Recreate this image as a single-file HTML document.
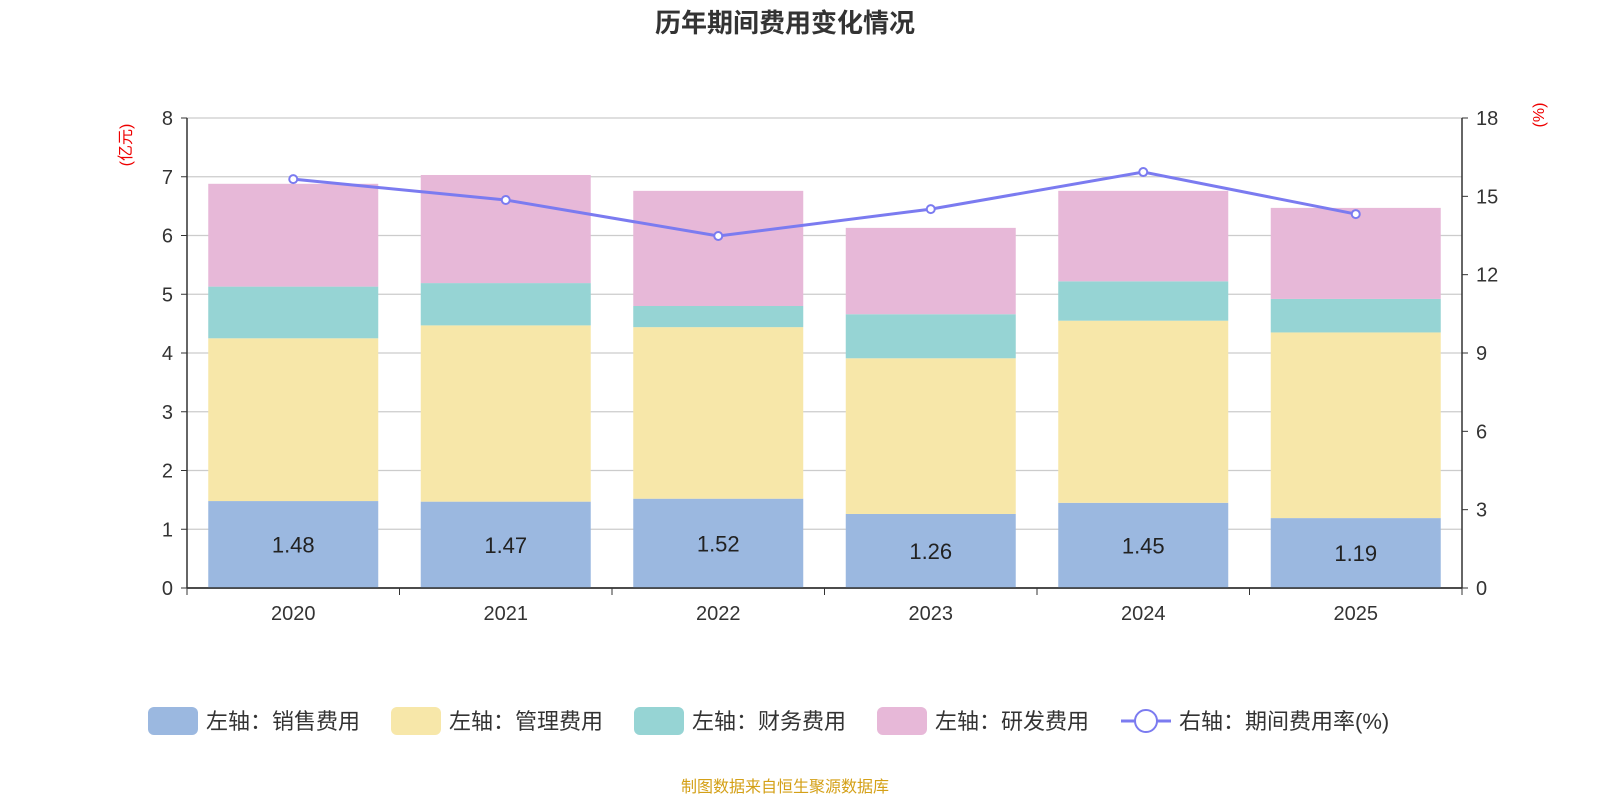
<!DOCTYPE html>
<html><head><meta charset="utf-8">
<style>
body{margin:0;background:#fff;font-family:"Liberation Sans","Noto Sans CJK SC",sans-serif;}
svg text{font-family:"Liberation Sans","Noto Sans CJK SC",sans-serif;}
</style></head>
<body>
<svg id="c" width="1600" height="800" xmlns="http://www.w3.org/2000/svg">
<text x="785" y="32" text-anchor="middle" font-size="26" font-weight="bold" fill="#333">历年期间费用变化情况</text>
<text x="0" y="0" transform="translate(131,145) rotate(-90)" text-anchor="middle" font-size="16" fill="#e00">(亿元)</text>
<text x="0" y="0" transform="translate(1544,115) rotate(-90)" text-anchor="middle" font-size="16" fill="#e00">(%)</text>
<g id="grid"></g><g id="bars"></g><g id="axes"></g><g id="line"></g>
<g id="legend"></g>
<text x="785" y="792" text-anchor="middle" font-size="16" fill="#d4a017">制图数据来自恒生聚源数据库</text>
</svg>
<script>
const categories=["2020","2021","2022","2023","2024","2025"];
const sales=[1.48,1.47,1.52,1.26,1.45,1.19];
const mgmt=[2.77,3.00,2.92,2.65,3.10,3.16];
const fin=[0.88,0.72,0.36,0.75,0.67,0.57];
const rd=[1.75,1.84,1.96,1.47,1.54,1.55];
const rate=[15.66,14.86,13.48,14.51,15.93,14.32];
const leftTicks=[0,1,2,3,4,5,6,7,8];
const rightTicks=[0,3,6,9,12,15,18];
const NS="http://www.w3.org/2000/svg";
const X0=187,X1=1462,Y0=588,Y1=118;
const step=(X1-X0)/categories.length;
const yL=v=>Y0-(v/8)*(Y0-Y1);
const yR=v=>Y0-(v/18)*(Y0-Y1);
const xC=i=>X0+step*(i+0.5);
function mk(tag,attrs,parent){const e=document.createElementNS(NS,tag);for(const k in attrs)e.setAttribute(k,attrs[k]);document.getElementById(parent).appendChild(e);return e;}
leftTicks.forEach(t=>{
 const l=mk('line',{x1:X0,x2:X1,y1:yL(t),y2:yL(t),stroke:t===0?'#333':'#ccc','stroke-width':t===0?1.5:1.2},'grid');
 
 
 const tx=mk('text',{x:X0-14,y:yL(t)+7,'text-anchor':'end','font-size':20,fill:'#333'},'axes');tx.textContent=t;
 
 
 mk('line',{x1:X0-6,x2:X0,y1:yL(t),y2:yL(t),stroke:'#333'},'axes');
});
rightTicks.forEach(t=>{
 const tx=mk('text',{x:X1+14,y:yR(t)+7,'font-size':20,fill:'#333'},'axes');tx.textContent=t;
 
 
 mk('line',{x1:X1,x2:X1+6,y1:yR(t),y2:yR(t),stroke:'#333'},'axes');
});
mk('line',{x1:X0,x2:X0,y1:Y1,y2:Y0,stroke:'#333','stroke-width':1.5},'axes');
mk('line',{x1:X1,x2:X1,y1:Y1,y2:Y0,stroke:'#333','stroke-width':1.5},'axes');
mk('line',{x1:X0,x2:X1,y1:Y0,y2:Y0,stroke:'#333','stroke-width':1.5},'axes');
for(let i=0;i<=categories.length;i++)mk('line',{x1:X0+step*i,x2:X0+step*i,y1:Y0,y2:Y0+7,stroke:'#333'},'axes');
const series=[[sales,'#9bb8e0','sales'],[mgmt,'#f7e7a9','mgmt'],[fin,'#96d4d4','finance'],[rd,'#e7b8d8','rnd']];
const bw=170;
categories.forEach((c,i)=>{
 let base=0;
 series.forEach(([arr,col,nm])=>{
  const v=arr[i];
  const r=mk('rect',{x:xC(i)-bw/2,y:yL(base+v),width:bw,height:yL(base)-yL(base+v),fill:col},'bars');
  
  
  base+=v;
 });
 const lb=mk('text',{x:xC(i),y:(yL(0)+yL(sales[i]))/2+8,'text-anchor':'middle','font-size':22,fill:'#222'},'bars');lb.textContent=sales[i].toFixed(2);
 
 
 const cx=mk('text',{x:xC(i),y:Y0+32,'text-anchor':'middle','font-size':20,fill:'#333'},'axes');cx.textContent=c;
 
 
});
const pts=rate.map((v,i)=>xC(i)+','+yR(v)).join(' ');
const pl=mk('polyline',{points:pts,fill:'none',stroke:'#7b7bf0','stroke-width':3},'line');


rate.forEach((v,i)=>{
 const p=mk('circle',{cx:xC(i),cy:yR(v),r:4,fill:'#fff',stroke:'#7b7bf0','stroke-width':2},'line');
 
 
});
const leg=[['左轴：销售费用','#9bb8e0',148],['左轴：管理费用','#f7e7a9',391],['左轴：财务费用','#96d4d4',634],['左轴：研发费用','#e7b8d8',877]];
leg.forEach(([t,col,x])=>{
 const g=mk('g',{},'legend');
 
 
 const r=document.createElementNS(NS,'rect');r.setAttribute('x',x);r.setAttribute('y',707);r.setAttribute('width',50);r.setAttribute('height',28);r.setAttribute('rx',6);r.setAttribute('fill',col);g.appendChild(r);
 const tx=document.createElementNS(NS,'text');tx.setAttribute('x',x+58);tx.setAttribute('y',729);tx.setAttribute('font-size',22);tx.setAttribute('fill','#333');tx.textContent=t;g.appendChild(tx);
});
const g2=mk('g',{},'legend');


g2.innerHTML='<line x1="1121" x2="1171" y1="721" y2="721" stroke="#7b7bf0" stroke-width="3"/><circle cx="1146" cy="721" r="11" fill="#fff" stroke="#7b7bf0" stroke-width="2"/><text x="1179" y="729" font-size="22" fill="#333">右轴：期间费用率(%)</text>';
</script>
</body></html>
